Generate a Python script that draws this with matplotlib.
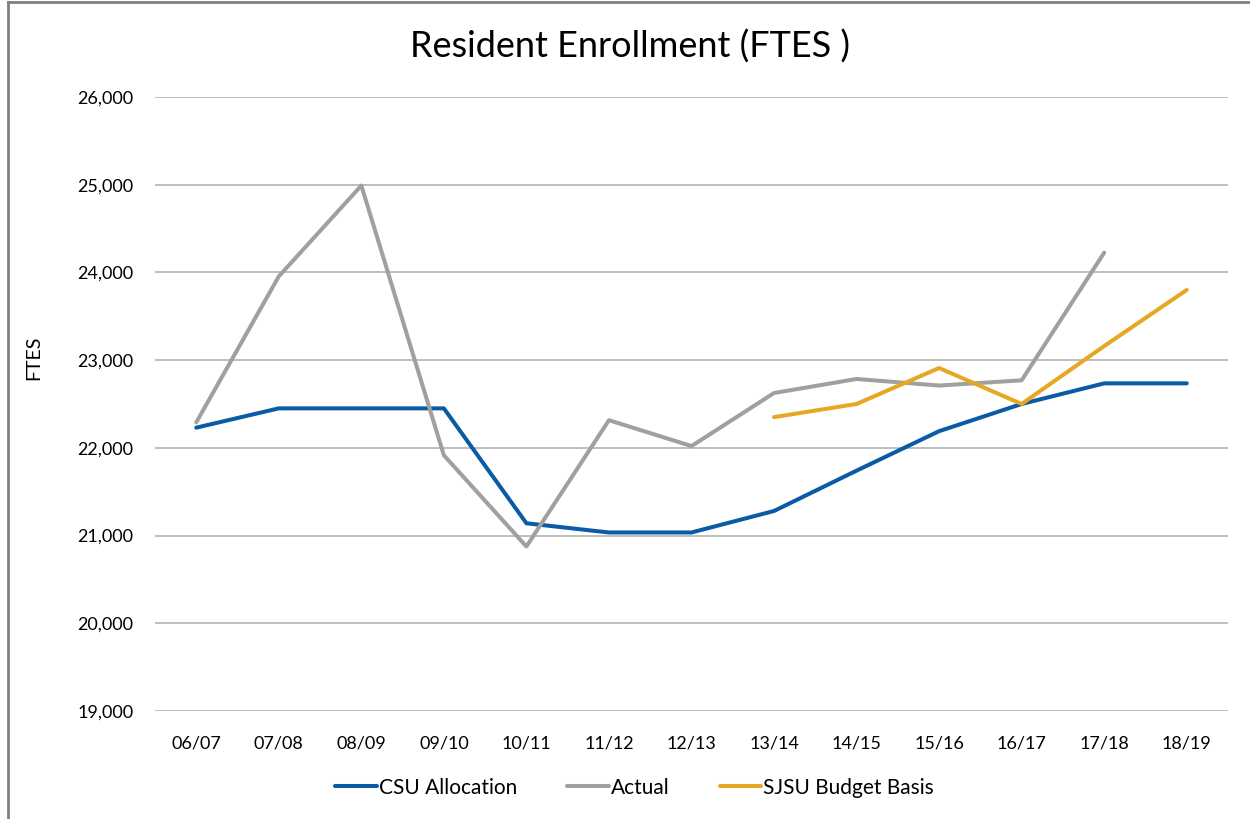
import matplotlib
matplotlib.use("Agg")
import matplotlib.pyplot as plt
import numpy as np

plt.rcParams['font.family'] = ['Lato', 'DejaVu Sans']

# data
years = ["06/07", "07/08", "08/09", "09/10", "10/11", "11/12", "12/13",
         "13/14", "14/15", "15/16", "16/17", "17/18", "18/19"]
csu_allocation = [22230, 22450, 22450, 22450, 21140, 21035, 21035,
                  21280, 21740, 22190, 22500, 22735, 22735]
actual = [22290, 23955, 24990, 21915, 20875, 22315, 22020,
          22625, 22785, 22710, 22770, 24225, np.nan]
sjsu_budget = [np.nan] * 7 + [22350, 22500, 22910, 22500, 23160, 23800]
y_ticks = [19000, 20000, 21000, 22000, 23000, 24000, 25000, 26000]

fig = plt.figure(figsize=(12.5, 8.19), dpi=100)
ax = fig.add_axes([0.124, 0.1319, 0.8584, 0.7497])

x = np.arange(len(years))
ax.plot(x, csu_allocation, color='#0A5AA6', lw=2.9, label='CSU Allocation', solid_capstyle='round')
ax.plot(x, actual, color='#A0A0A0', lw=2.9, label='Actual', solid_capstyle='round')
ax.plot(x, sjsu_budget, color='#E6A823', lw=2.9, label='SJSU Budget Basis', solid_capstyle='round')

ax.set_xlim(-0.5, len(years) - 0.5)
ax.set_ylim(19000, 26000)
ax.set_yticks(y_ticks)
ax.set_yticklabels([f"{v:,}" for v in y_ticks])
ax.set_xticks(x)
ax.set_xticklabels(years)
ax.grid(axis='y', color='#B3B3B3', lw=1.2)
ax.set_axisbelow(True)
for s in ['top', 'right', 'left', 'bottom']:
    ax.spines[s].set_visible(False)
ax.tick_params(axis='both', length=0, labelsize=13, colors='#000000')
ax.tick_params(axis='y', pad=56)
ax.tick_params(axis='x', pad=18)
for lbl in ax.get_yticklabels():
    lbl.set_horizontalalignment('left')

ax.set_ylabel("FTES", fontsize=14)
ax.yaxis.set_label_coords(-0.105, 0.575)

fig.text(0.504, 0.943, "Resident Enrollment (FTES )", ha='center', va='center', fontsize=26)

ax.legend(loc='center', bbox_to_anchor=(0.447, -0.125), ncol=3, frameon=False,
          fontsize=15, handlelength=2.0, handletextpad=0.1, columnspacing=2.4)

# border around the chart
fig.add_artist(plt.Line2D([0.0065, 0.0065], [0, 0.997], color='#808080', lw=2, transform=fig.transFigure))
fig.add_artist(plt.Line2D([0.0065, 1], [0.997, 0.997], color='#808080', lw=2, transform=fig.transFigure))

fig.savefig('out.png', dpi=100)
